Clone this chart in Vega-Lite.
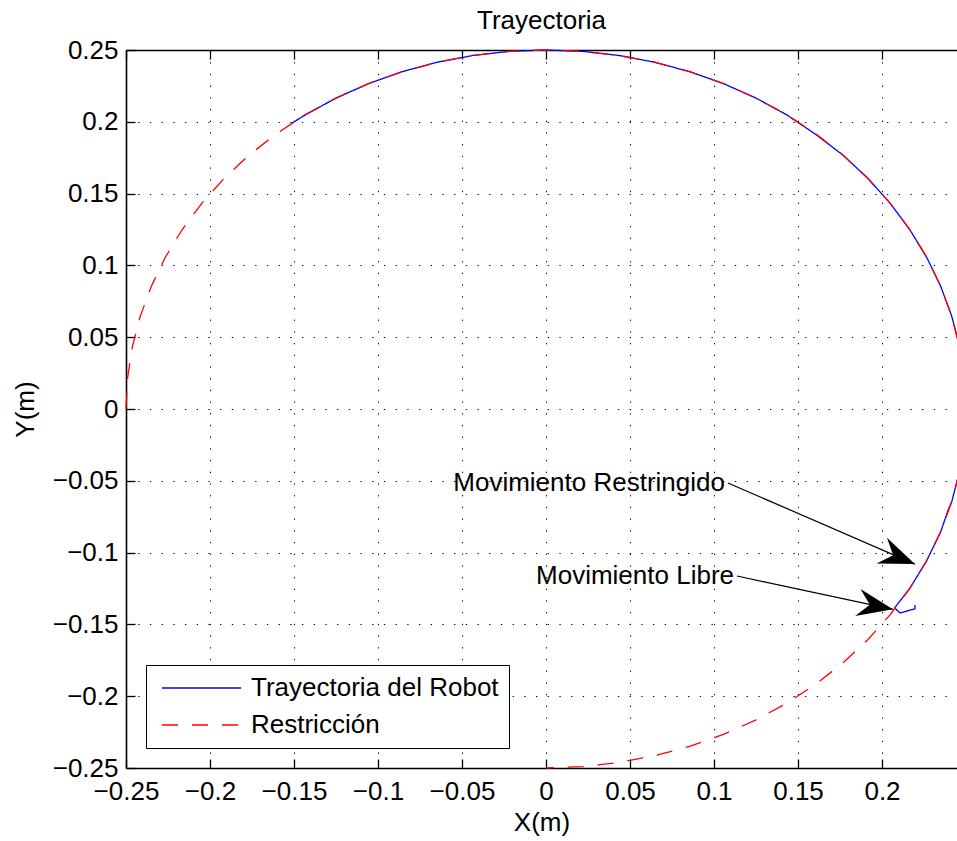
{
  "$schema": "https://vega.github.io/schema/vega-lite/v6.json",
  "width": 831,
  "height": 718,
  "autosize": {"type": "none"},
  "padding": {"left": 126, "top": 50, "right": 0, "bottom": 73},
  "background": "white",
  "title": {"text": "Trayectoria", "fontSize": 26, "fontWeight": "normal", "color": "black", "baseline": "alphabetic", "offset": -18, "anchor": "middle"},
  "config": {
    "font": "Liberation Sans",
    "view": {"stroke": null},
    "axis": {
      "labelFontSize": 26, "labelColor": "black", "labelFont": "Liberation Sans",
      "titleFontSize": 26, "titleFontWeight": "normal", "titleColor": "black", "titleFont": "Liberation Sans",
      "domainColor": "black", "domainWidth": 1.6,
      "tickColor": "black", "tickSize": -9, "tickWidth": 1.3,
      "gridColor": "black", "gridDash": [1.3, 10.4], "gridWidth": 1, "gridOpacity": 1,
      "labelFlush": false, "labelOverlap": false, "labelBound": false
    }
  },
  "datasets": {
    "path": [
      {"series": "Trayectoria del Robot", "ord": 1, "x": 0.2196, "y": -0.1365},
      {"series": "Trayectoria del Robot", "ord": 2, "x": 0.2196, "y": -0.1392},
      {"series": "Trayectoria del Robot", "ord": 3, "x": 0.2107, "y": -0.1420},
      {"series": "Trayectoria del Robot", "ord": 4, "x": 0.2075, "y": -0.1385},
      {"series": "Trayectoria del Robot", "ord": 5, "x": 0.21651, "y": -0.125},
      {"series": "Trayectoria del Robot", "ord": 6, "x": 0.22658, "y": -0.10566},
      {"series": "Trayectoria del Robot", "ord": 7, "x": 0.23492, "y": -0.08551},
      {"series": "Trayectoria del Robot", "ord": 8, "x": 0.2395, "y": -0.0700},
      {"series": "Trayectoria del Robot", "ord": 9, "x": 0.24148, "y": -0.06470},
      {"series": "Trayectoria del Robot", "ord": 10, "x": 0.24620, "y": -0.04341},
      {"series": "Trayectoria del Robot", "ord": 11, "x": 0.24905, "y": -0.02179},
      {"series": "Trayectoria del Robot", "ord": 12, "x": 0.25, "y": 0},
      {"series": "Trayectoria del Robot", "ord": 13, "x": 0.24905, "y": 0.02179},
      {"series": "Trayectoria del Robot", "ord": 14, "x": 0.24620, "y": 0.04341},
      {"series": "Trayectoria del Robot", "ord": 15, "x": 0.24148, "y": 0.06470},
      {"series": "Trayectoria del Robot", "ord": 16, "x": 0.23492, "y": 0.08551},
      {"series": "Trayectoria del Robot", "ord": 17, "x": 0.22658, "y": 0.10566},
      {"series": "Trayectoria del Robot", "ord": 18, "x": 0.21651, "y": 0.125},
      {"series": "Trayectoria del Robot", "ord": 19, "x": 0.20479, "y": 0.14340},
      {"series": "Trayectoria del Robot", "ord": 20, "x": 0.19151, "y": 0.16070},
      {"series": "Trayectoria del Robot", "ord": 21, "x": 0.17678, "y": 0.17678},
      {"series": "Trayectoria del Robot", "ord": 22, "x": 0.16070, "y": 0.19110},
      {"series": "Trayectoria del Robot", "ord": 23, "x": 0.14340, "y": 0.20479},
      {"series": "Trayectoria del Robot", "ord": 24, "x": 0.125, "y": 0.21651},
      {"series": "Trayectoria del Robot", "ord": 25, "x": 0.10566, "y": 0.22658},
      {"series": "Trayectoria del Robot", "ord": 26, "x": 0.08551, "y": 0.23492},
      {"series": "Trayectoria del Robot", "ord": 27, "x": 0.06470, "y": 0.24148},
      {"series": "Trayectoria del Robot", "ord": 28, "x": 0.04341, "y": 0.24620},
      {"series": "Trayectoria del Robot", "ord": 29, "x": 0.02179, "y": 0.24905},
      {"series": "Trayectoria del Robot", "ord": 30, "x": 0, "y": 0.25},
      {"series": "Trayectoria del Robot", "ord": 31, "x": -0.02179, "y": 0.24905},
      {"series": "Trayectoria del Robot", "ord": 32, "x": -0.04341, "y": 0.24620},
      {"series": "Trayectoria del Robot", "ord": 33, "x": -0.06470, "y": 0.24148},
      {"series": "Trayectoria del Robot", "ord": 34, "x": -0.08551, "y": 0.23492},
      {"series": "Trayectoria del Robot", "ord": 35, "x": -0.10566, "y": 0.22658},
      {"series": "Trayectoria del Robot", "ord": 36, "x": -0.125, "y": 0.21651},
      {"series": "Trayectoria del Robot", "ord": 37, "x": -0.14340, "y": 0.20479},
      {"series": "Trayectoria del Robot", "ord": 38, "x": -0.1515, "y": 0.1988},
      {"series": "Restricción", "ord": 1, "x": -0.25, "y": 0},
      {"series": "Restricción", "ord": 2, "x": -0.24905, "y": 0.02179},
      {"series": "Restricción", "ord": 3, "x": -0.24620, "y": 0.04341},
      {"series": "Restricción", "ord": 4, "x": -0.24148, "y": 0.06470},
      {"series": "Restricción", "ord": 5, "x": -0.23492, "y": 0.08551},
      {"series": "Restricción", "ord": 6, "x": -0.22658, "y": 0.10566},
      {"series": "Restricción", "ord": 7, "x": -0.21651, "y": 0.125},
      {"series": "Restricción", "ord": 8, "x": -0.20479, "y": 0.14340},
      {"series": "Restricción", "ord": 9, "x": -0.19151, "y": 0.16070},
      {"series": "Restricción", "ord": 10, "x": -0.17678, "y": 0.17678},
      {"series": "Restricción", "ord": 11, "x": -0.16070, "y": 0.19151},
      {"series": "Restricción", "ord": 12, "x": -0.14340, "y": 0.20479},
      {"series": "Restricción", "ord": 13, "x": -0.125, "y": 0.21651},
      {"series": "Restricción", "ord": 14, "x": -0.10566, "y": 0.22658},
      {"series": "Restricción", "ord": 15, "x": -0.08551, "y": 0.23492},
      {"series": "Restricción", "ord": 16, "x": -0.06470, "y": 0.24148},
      {"series": "Restricción", "ord": 17, "x": -0.04341, "y": 0.24620},
      {"series": "Restricción", "ord": 18, "x": -0.02179, "y": 0.24905},
      {"series": "Restricción", "ord": 19, "x": 0, "y": 0.25},
      {"series": "Restricción", "ord": 20, "x": 0.02179, "y": 0.24905},
      {"series": "Restricción", "ord": 21, "x": 0.04341, "y": 0.24620},
      {"series": "Restricción", "ord": 22, "x": 0.06470, "y": 0.24148},
      {"series": "Restricción", "ord": 23, "x": 0.08551, "y": 0.23492},
      {"series": "Restricción", "ord": 24, "x": 0.10566, "y": 0.22658},
      {"series": "Restricción", "ord": 25, "x": 0.125, "y": 0.21651},
      {"series": "Restricción", "ord": 26, "x": 0.14340, "y": 0.20479},
      {"series": "Restricción", "ord": 27, "x": 0.16070, "y": 0.19151},
      {"series": "Restricción", "ord": 28, "x": 0.17678, "y": 0.17678},
      {"series": "Restricción", "ord": 29, "x": 0.19151, "y": 0.16070},
      {"series": "Restricción", "ord": 30, "x": 0.20479, "y": 0.14340},
      {"series": "Restricción", "ord": 31, "x": 0.21651, "y": 0.125},
      {"series": "Restricción", "ord": 32, "x": 0.22658, "y": 0.10566},
      {"series": "Restricción", "ord": 33, "x": 0.23492, "y": 0.08551},
      {"series": "Restricción", "ord": 34, "x": 0.24148, "y": 0.06470},
      {"series": "Restricción", "ord": 35, "x": 0.24620, "y": 0.04341},
      {"series": "Restricción", "ord": 36, "x": 0.24905, "y": 0.02179},
      {"series": "Restricción", "ord": 37, "x": 0.25, "y": 0},
      {"series": "Restricción", "ord": 38, "x": 0.24905, "y": -0.02179},
      {"series": "Restricción", "ord": 39, "x": 0.24620, "y": -0.04341},
      {"series": "Restricción", "ord": 40, "x": 0.24148, "y": -0.06470},
      {"series": "Restricción", "ord": 41, "x": 0.23492, "y": -0.08551},
      {"series": "Restricción", "ord": 42, "x": 0.22658, "y": -0.10566},
      {"series": "Restricción", "ord": 43, "x": 0.21651, "y": -0.125},
      {"series": "Restricción", "ord": 44, "x": 0.20479, "y": -0.14340},
      {"series": "Restricción", "ord": 45, "x": 0.19151, "y": -0.16070},
      {"series": "Restricción", "ord": 46, "x": 0.17678, "y": -0.17678},
      {"series": "Restricción", "ord": 47, "x": 0.16070, "y": -0.19151},
      {"series": "Restricción", "ord": 48, "x": 0.14340, "y": -0.20479},
      {"series": "Restricción", "ord": 49, "x": 0.125, "y": -0.21651},
      {"series": "Restricción", "ord": 50, "x": 0.10566, "y": -0.22658},
      {"series": "Restricción", "ord": 51, "x": 0.08551, "y": -0.23492},
      {"series": "Restricción", "ord": 52, "x": 0.06470, "y": -0.24148},
      {"series": "Restricción", "ord": 53, "x": 0.04341, "y": -0.24620},
      {"series": "Restricción", "ord": 54, "x": 0.02179, "y": -0.24905},
      {"series": "Restricción", "ord": 55, "x": 0, "y": -0.25}
    ],
    "notes": [
      {"label": "Movimiento Restringido", "x0": 0.1083, "y0": -0.0515, "x1": 0.2196, "y1": -0.1080},
      {"label": "Movimiento Libre", "x0": 0.1137, "y0": -0.1163, "x1": 0.2065, "y1": -0.1395}
    ]
  },
  "resolve": {"axis": {"x": "independent", "y": "shared"}},
  "layer": [
    {
      "data": {"name": "path"},
      "transform": [{"filter": "datum.series === 'Trayectoria del Robot'"}],
      "mark": {"type": "line", "strokeWidth": 1.3},
      "encoding": {
        "x": {"field": "x", "type": "quantitative", "scale": {"domain": [-0.25, 0.24464], "nice": false, "zero": false},
          "axis": {"orient": "bottom", "title": "X(m)", "values": [-0.25, -0.2, -0.15, -0.1, -0.05, 0, 0.05, 0.1, 0.15, 0.2], "format": ".2~f", "grid": true, "labelPadding": 19, "titlePadding": 5}},
        "y": {"field": "y", "type": "quantitative", "scale": {"domain": [-0.25, 0.25], "nice": false, "zero": false},
          "axis": {"orient": "left", "title": "Y(m)", "values": [-0.25, -0.2, -0.15, -0.1, -0.05, 0, 0.05, 0.1, 0.15, 0.2, 0.25], "format": ".2~f", "grid": true, "labelPadding": 17, "titlePadding": 14}},
        "order": {"field": "ord", "type": "quantitative"},
        "color": {"field": "series", "type": "nominal",
          "scale": {"domain": ["Trayectoria del Robot", "Restricción"], "range": ["#0000ff", "#ff0000"]},
          "legend": {"title": null, "orient": "bottom-left", "offset": 20, "strokeColor": "black", "fillColor": "white", "padding": 10, "rowPadding": 11, "labelFontSize": 26, "labelColor": "black", "labelLimit": 0, "symbolType": "M-0.7,0L7.2,0", "symbolSize": 400, "symbolStrokeWidth": 1.3, "labelOffset": 69}},
        "strokeDash": {"field": "series", "type": "nominal",
          "scale": {"domain": ["Trayectoria del Robot", "Restricción"], "range": [[1, 0], [16, 14]]},
          "legend": {"title": null, "orient": "bottom-left", "offset": 20, "strokeColor": "black", "fillColor": "white", "padding": 10, "rowPadding": 11, "labelFontSize": 26, "labelColor": "black", "labelLimit": 0, "symbolType": "M-0.7,0L7.2,0", "symbolSize": 400, "symbolStrokeWidth": 1.3, "labelOffset": 69}}
      }
    },
    {
      "data": {"name": "path"},
      "transform": [{"filter": "datum.series === 'Restricción'"}],
      "mark": {"type": "line", "strokeWidth": 1.3},
      "encoding": {
        "x": {"field": "x", "type": "quantitative", "scale": {"domain": [-0.25, 0.24464], "nice": false, "zero": false},
          "axis": {"orient": "top", "title": null, "labels": false, "grid": false, "values": [-0.25, -0.2, -0.15, -0.1, -0.05, 0, 0.05, 0.1, 0.15, 0.2]}},
        "y": {"field": "y", "type": "quantitative", "scale": {"domain": [-0.25, 0.25], "nice": false, "zero": false},
          "axis": {"orient": "left", "title": "Y(m)", "values": [-0.25, -0.2, -0.15, -0.1, -0.05, 0, 0.05, 0.1, 0.15, 0.2, 0.25], "format": ".2~f", "grid": true, "labelPadding": 17, "titlePadding": 14}},
        "order": {"field": "ord", "type": "quantitative"},
        "color": {"field": "series", "type": "nominal",
          "scale": {"domain": ["Trayectoria del Robot", "Restricción"], "range": ["#0000ff", "#ff0000"]}},
        "strokeDash": {"field": "series", "type": "nominal",
          "scale": {"domain": ["Trayectoria del Robot", "Restricción"], "range": [[1, 0], [16, 14]]}}
      }
    },
    {
      "data": {"name": "notes"},
      "mark": {"type": "rule", "color": "black", "strokeWidth": 1.2},
      "encoding": {
        "x": {"field": "x0", "type": "quantitative", "scale": {"domain": [-0.25, 0.24464], "nice": false, "zero": false}, "axis": null},
        "y": {"field": "y0", "type": "quantitative", "scale": {"domain": [-0.25, 0.25], "nice": false, "zero": false},
          "axis": {"orient": "left", "title": "Y(m)", "values": [-0.25, -0.2, -0.15, -0.1, -0.05, 0, 0.05, 0.1, 0.15, 0.2, 0.25], "format": ".2~f", "grid": true, "labelPadding": 17, "titlePadding": 14}},
        "x2": {"field": "x1"},
        "y2": {"field": "y1"}
      }
    },
    {
      "data": {"name": "notes"},
      "mark": {"type": "point", "shape": "M0,0L0.62,1.6L0,1.05L-0.62,1.6Z", "filled": true, "color": "black", "opacity": 1, "size": 2000, "strokeWidth": 0},
      "encoding": {
        "x": {"field": "x1", "type": "quantitative", "scale": {"domain": [-0.25, 0.24464], "nice": false, "zero": false}, "axis": null},
        "y": {"field": "y1", "type": "quantitative", "scale": {"domain": [-0.25, 0.25], "nice": false, "zero": false},
          "axis": {"orient": "left", "title": "Y(m)", "values": [-0.25, -0.2, -0.15, -0.1, -0.05, 0, 0.05, 0.1, 0.15, 0.2, 0.25], "format": ".2~f", "grid": true, "labelPadding": 17, "titlePadding": 14}},
        "angle": {"condition": {"test": "datum.label === 'Movimiento Libre'", "value": 101}, "value": 112}
      }
    },
    {
      "data": {"name": "notes"},
      "mark": {"type": "text", "align": "right", "baseline": "middle", "dx": -3, "fontSize": 26, "color": "black"},
      "encoding": {
        "x": {"field": "x0", "type": "quantitative", "scale": {"domain": [-0.25, 0.24464], "nice": false, "zero": false}, "axis": null},
        "y": {"field": "y0", "type": "quantitative", "scale": {"domain": [-0.25, 0.25], "nice": false, "zero": false},
          "axis": {"orient": "left", "title": "Y(m)", "values": [-0.25, -0.2, -0.15, -0.1, -0.05, 0, 0.05, 0.1, 0.15, 0.2, 0.25], "format": ".2~f", "grid": true, "labelPadding": 17, "titlePadding": 14}},
        "text": {"field": "label"}
      }
    }
  ]
}
